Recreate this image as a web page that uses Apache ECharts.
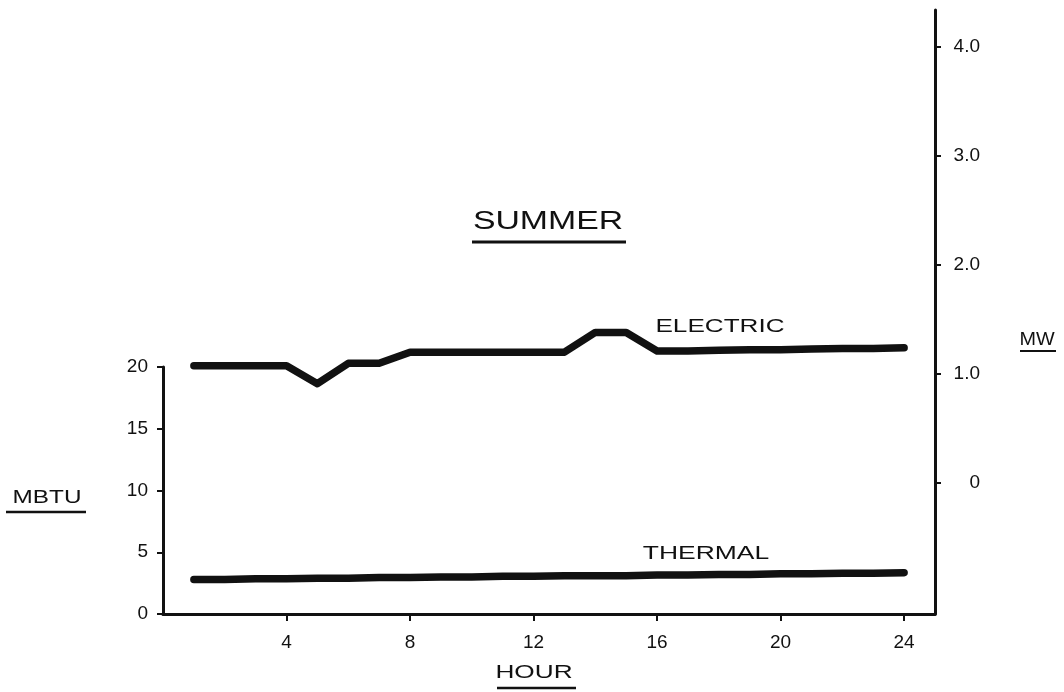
<!DOCTYPE html>
<html>
<head>
<meta charset="utf-8">
<script src="https://cdn.jsdelivr.net/npm/echarts@6/dist/echarts.min.js"></script>
<style>html,body{margin:0;padding:0;background:#fff}#c{width:1064px;height:692px}</style>
</head>
<body>
<div id="c"></div>
<script>
const hours = [1,2,3,4,5,6,7,8,9,10,11,12,13,14,15,16,17,18,19,20,21,22,23,24];
const electric = [20.1,20.1,20.1,20.1,18.65,20.3,20.3,21.2,21.2,21.2,21.2,21.2,21.2,22.8,22.8,21.3,21.3,21.35,21.4,21.4,21.45,21.5,21.5,21.55];
const thermal = [2.8,2.8,2.85,2.85,2.9,2.9,2.95,2.95,3.0,3.0,3.05,3.05,3.1,3.1,3.1,3.15,3.15,3.2,3.2,3.25,3.25,3.3,3.3,3.35];
const hourTicks = [4,8,12,16,20,24];
const mbtuTicks = [0,5,10,15,20];
const mwTicks = [0,1,2,3,4];
const mwLabels = ['0','1.0','2.0','3.0','4.0'];

const FONT = "'Liberation Sans', Arial, sans-serif";
const INK = '#111';

const chart = echarts.init(document.getElementById('c'));

function label(text, x, y, size, sx) {
  return {type:'text', x:x, y:y, scaleX:sx, z:10,
    style:{text:text, fontFamily:FONT, fontSize:size, fill:INK, textAlign:'center', textVerticalAlign:'middle'}};
}
function uline(x1, y1, x2, y2, w) {
  return {type:'line', z:10, shape:{x1:x1,y1:y1,x2:x2,y2:y2}, style:{stroke:INK, lineWidth:w||2}};
}

chart.setOption({
  animation:false,
  backgroundColor:'#fff',
  grid:[
    {left:163, right:129, top:10, bottom:78},
    {left:163, right:129, top:367, bottom:78}
  ],
  xAxis:[
    {gridIndex:0, type:'value', min:0, max:25,
     axisLine:{show:true, onZero:false, lineStyle:{color:INK, width:3}},
     axisTick:{show:true, customValues:hourTicks, length:7, lineStyle:{color:INK, width:2}},
     axisLabel:{customValues:hourTicks, margin:19, fontFamily:FONT, fontSize:19, color:INK},
     splitLine:{show:false}},
    {gridIndex:1, type:'value', min:0, max:25, show:false}
  ],
  yAxis:[
    {gridIndex:0, type:'value', position:'right', min:-1.21, max:4.34,
     axisLine:{show:true, onZero:false, lineStyle:{color:INK, width:3}},
     axisTick:{show:true, customValues:mwTicks, length:6, lineStyle:{color:INK, width:2}},
     axisLabel:{customValues:mwTicks, formatter:function(v){return mwLabels[mwTicks.indexOf(Math.round(v))];},
       align:'right', margin:45, fontFamily:FONT, fontSize:19, color:INK},
     splitLine:{show:false}},
    {gridIndex:1, type:'value', position:'left', min:0, max:20, interval:5,
     axisLine:{show:true, onZero:false, lineStyle:{color:INK, width:3}},
     axisTick:{show:true, length:6, lineStyle:{color:INK, width:2}},
     axisLabel:{margin:15, fontFamily:FONT, fontSize:19, color:INK},
     splitLine:{show:false}}
  ],
  series:[
    {name:'ELECTRIC', type:'line', xAxisIndex:1, yAxisIndex:1, showSymbol:false, clip:false,
     data:hours.map((h,i)=>[h, electric[i]]),
     lineStyle:{color:INK, width:7.5, cap:'round', join:'round'}},
    {name:'THERMAL', type:'line', xAxisIndex:1, yAxisIndex:1, showSymbol:false, clip:false,
     data:hours.map((h,i)=>[h, thermal[i]]),
     lineStyle:{color:INK, width:7.5, cap:'round', join:'round'}}
  ],
  graphic:[
    label('SUMMER', 548, 222, 26, 1.3),
    uline(472, 242, 626, 242, 3),
    label('ELECTRIC', 720, 327, 18, 1.45),
    label('THERMAL', 706, 554, 18, 1.47),
    label('HOUR', 534, 673, 19, 1.38),
    uline(497, 688, 576, 688, 2.5),
    label('MBTU', 47, 498, 19, 1.28),
    uline(6, 512, 86, 512, 2.5),
    label('MW', 1037, 340, 18, 1.1),
    uline(1020, 351, 1056, 351, 2)
  ]
});
</script>
</body>
</html>
